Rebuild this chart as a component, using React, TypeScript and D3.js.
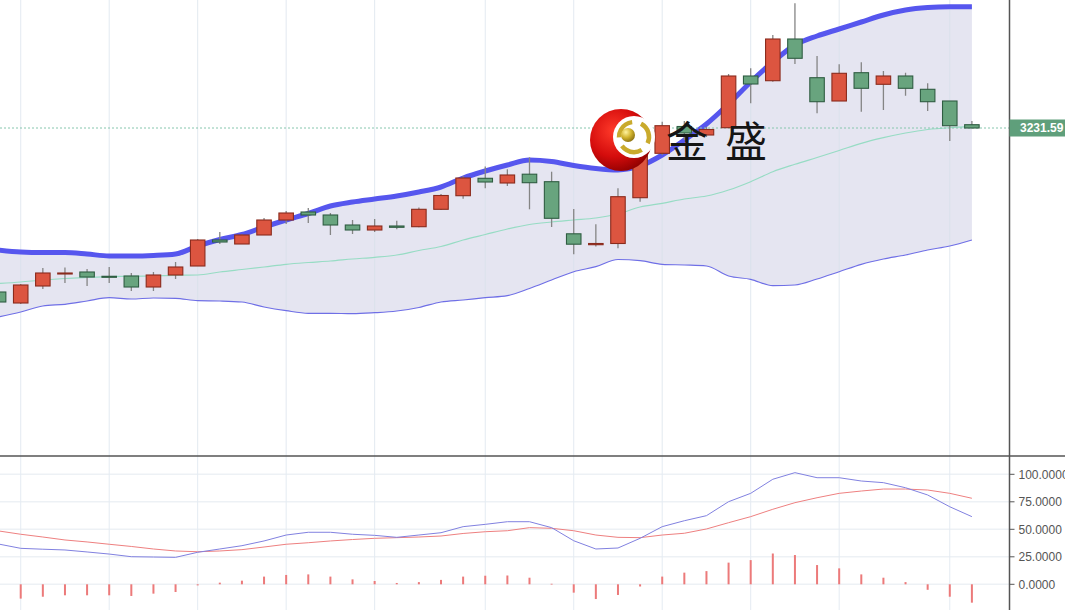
import React from "react";
import * as d3 from "d3";

const W = 1065;
const H = 610;
const AXIS_X = 1009.5;
const DIVIDER_Y = 456;

// candles: first one (index -1) is cut by the left edge, last is index 43
const open = [2903.6, 2881.6, 2915.6, 2939.6, 2943.6, 2935.0, 2935.6, 2913.6, 2937.6, 2955.6, 3007.6, 2999.6, 3017.6, 3047.6, 3063.6, 3057.6, 3037.6, 3027.6, 3035.6, 3034.2, 3069.0, 3096.2, 3131.0, 3121.6, 3139.2, 3124.2, 3020.0, 2998.2, 3000.6, 3092.2, 3181.0, 3234.6, 3217.6, 3232.2, 3335.6, 3326.2, 3409.6, 3332.2, 3285.6, 3342.2, 3319.0, 3335.6, 3309.0, 3285.6, 3238.2];
const high = [2907.6, 2919.6, 2951.6, 2952.6, 2949.6, 2953.6, 2941.6, 2943.6, 2963.6, 3009.6, 3023.6, 3019.6, 3051.6, 3065.6, 3071.6, 3061.6, 3047.6, 3049.6, 3046.2, 3072.6, 3099.6, 3135.6, 3154.6, 3149.0, 3173.0, 3144.2, 3069.6, 3039.0, 3111.0, 3187.6, 3244.2, 3245.6, 3233.6, 3339.6, 3351.0, 3417.6, 3481.0, 3375.6, 3359.0, 3363.0, 3345.6, 3342.2, 3321.0, 3285.6, 3245.6];
const low = [2877.6, 2879.6, 2909.6, 2921.6, 2915.6, 2921.6, 2905.6, 2905.6, 2929.6, 2955.6, 2999.6, 2999.6, 3017.6, 3039.6, 3041.6, 3017.6, 3019.6, 3023.6, 3028.9, 3033.0, 3067.6, 3090.2, 3111.0, 3115.6, 3069.0, 3033.6, 2979.0, 2994.6, 2991.0, 3084.2, 3177.6, 3207.6, 3213.6, 3231.6, 3281.0, 3324.2, 3359.6, 3261.0, 3285.6, 3264.2, 3267.6, 3296.2, 3265.6, 3205.6, 3231.0];
const close = [2883.6, 2917.6, 2941.6, 2941.6, 2933.6, 2933.6, 2913.6, 2937.6, 2953.6, 3007.6, 3003.6, 3017.6, 3047.6, 3061.6, 3057.6, 3037.6, 3027.6, 3035.6, 3033.0, 3069.0, 3096.6, 3131.6, 3123.6, 3137.6, 3122.2, 3051.0, 2999.2, 3000.6, 3094.2, 3181.0, 3236.2, 3221.6, 3228.6, 3335.6, 3319.6, 3409.6, 3371.0, 3284.2, 3341.0, 3311.0, 3335.6, 3311.0, 3284.2, 3236.2, 3231.59];

const bollUpper = [2987.6, 2983.6, 2982.6, 2982.6, 2979.6, 2975.6, 2975.6, 2976.6, 2979.6, 2995.6, 3008.6, 3018.6, 3033.6, 3047.6, 3060.6, 3075.6, 3083.6, 3089.6, 3095.6, 3103.6, 3113.6, 3131.6, 3145.6, 3157.6, 3167.6, 3164.6, 3156.6, 3150.6, 3147.6, 3155.6, 3177.6, 3207.6, 3239.6, 3279.6, 3323.6, 3363.6, 3397.6, 3415.6, 3429.6, 3443.6, 3457.6, 3467.6, 3472.6, 3474.2, 3474.2];
const bollMid = [2920.6, 2923.6, 2927.6, 2930.6, 2932.6, 2934.2, 2935.0, 2936.0, 2937.0, 2937.6, 2943.6, 2948.6, 2953.6, 2959.0, 2962.6, 2965.6, 2969.6, 2973.0, 2977.6, 2986.6, 2994.6, 3007.6, 3018.6, 3029.6, 3038.6, 3043.6, 3047.6, 3051.6, 3059.6, 3073.6, 3081.0, 3089.6, 3095.6, 3107.6, 3124.2, 3144.2, 3159.0, 3172.6, 3186.6, 3201.0, 3212.2, 3221.6, 3228.6, 3232.2, 3234.2];
const bollLower = [2853.6, 2863.6, 2875.6, 2879.0, 2885.6, 2892.2, 2889.6, 2891.6, 2891.0, 2886.2, 2885.6, 2883.6, 2873.6, 2866.2, 2861.0, 2861.0, 2860.2, 2862.2, 2865.6, 2872.6, 2883.6, 2887.6, 2892.2, 2896.2, 2910.6, 2927.6, 2944.2, 2954.2, 2968.6, 2966.2, 2959.0, 2957.6, 2955.6, 2935.6, 2929.0, 2916.2, 2917.6, 2929.6, 2944.2, 2959.0, 2969.6, 2977.6, 2987.6, 2995.6, 3007.6];

// lower panel
const kLine = [36.6, 32.7, 31.9, 31.2, 29.4, 27.5, 25.1, 24.8, 24.5, 29.1, 32.1, 35.1, 39.4, 44.8, 47.3, 47.3, 45.5, 44.5, 42.7, 44.8, 46.9, 52.4, 54.5, 56.9, 56.9, 51.5, 39.6, 32.1, 33.0, 41.8, 52.4, 57.8, 62.4, 75.1, 82.7, 95.5, 101.5, 96.9, 96.9, 93.9, 92.4, 87.8, 81.2, 70.5, 61.5];
const dLine = [48.5, 45.5, 43.0, 40.3, 38.5, 36.4, 34.4, 32.1, 30.3, 29.6, 30.3, 31.5, 33.9, 36.4, 37.8, 39.4, 40.7, 41.8, 42.4, 43.0, 43.9, 46.2, 47.8, 48.7, 51.5, 50.9, 48.7, 44.8, 42.7, 42.4, 44.8, 46.4, 50.3, 56.0, 61.5, 68.2, 74.2, 78.7, 82.7, 84.8, 86.6, 86.6, 85.7, 82.7, 78.2];
const hist = [-12, -13, -11.3, -10, -10, -10, -10.6, -8.5, -7, -1, 1.5, 3.3, 7, 8.5, 9, 7, 4.5, 3, 1.2, 2, 4, 7, 7.8, 8, 6, 0.5, -7.6, -13.4, -9.7, -2, 7, 10.6, 12, 19.7, 22, 28, 26.6, 17.5, 14.5, 9, 6, 2, -5, -11.3, -16.7];

const gridAt = [0, 4, 8, 12, 16, 21, 25, 29, 33, 37, 42];
const indTicks = [0, 25, 50, 75, 100];
const lastPrice = 3231.59;

const RED = "#dc5540";
const RED_EDGE = "#8a2b1d";
const GREEN = "#68a47e";
const GREEN_EDGE = "#2f5d42";

const Logo = () => (
    <g>
        <defs>
            <radialGradient id="redBall" cx="0.38" cy="0.35" r="0.7">
                <stop offset="0%" stopColor="#ff3a2a" />
                <stop offset="60%" stopColor="#d40c0c" />
                <stop offset="100%" stopColor="#8e0000" />
            </radialGradient>
            <radialGradient id="goldBall" cx="0.35" cy="0.3" r="0.75">
                <stop offset="0%" stopColor="#fff3a0" />
                <stop offset="50%" stopColor="#d4b630" />
                <stop offset="100%" stopColor="#8a7010" />
            </radialGradient>
        </defs>
        <circle cx={621} cy={140} r={31} fill="url(#redBall)" />
        <circle cx={634} cy={137} r={21} fill="#ffffff" />
        <circle cx={634} cy={137} r={15} fill="none" stroke="#c9aa2c" strokeWidth={4.5}
            strokeDasharray="22 9" transform="rotate(-60 634 137)" />
        <circle cx={628} cy={135} r={7} fill="url(#goldBall)" />
        <text x={666} y={157} fontSize={42} fontFamily="'Noto Sans CJK SC', sans-serif" fill="#151515">金</text>
        <text x={725} y={157} fontSize={42} fontFamily="'Noto Sans CJK SC', sans-serif" fill="#151515">盛</text>
    </g>
);

export default function App() {
    const idx = close.map((_, i) => i - 1);
    const x = d3.scaleLinear().domain([-1, 43]).range([-1.4, 971.9]);
    const y = d3.scaleLinear().domain([2577.6, 3487.6]).range([455, 0]);
    const yi = d3.scaleLinear().domain([0, 100]).range([584.3, 474.3]);

    const bandArea = d3.area<number>()
        .x((_, i) => x(idx[i]))
        .y0((_, i) => y(bollLower[i]))
        .y1((d) => y(d))
        .curve(d3.curveMonotoneX)(bollUpper);
    const priceLine = (arr: number[]) =>
        d3.line<number>().x((_, i) => x(idx[i])).y((d) => y(d)).curve(d3.curveMonotoneX)(arr);
    const indLine = (arr: number[]) =>
        d3.line<number>().x((_, i) => x(idx[i])).y((d) => yi(d))(arr);

    const bodyW = 14.5;

    return (
        <svg width={W} height={H} style={{ position: "absolute", left: 0, top: 0, background: "#fff" }}
            fontFamily="'Liberation Sans', Arial, sans-serif">
            <defs>
                <clipPath id="mainClip"><rect x={0} y={0} width={AXIS_X} height={DIVIDER_Y} /></clipPath>
                <clipPath id="indClip"><rect x={0} y={DIVIDER_Y} width={AXIS_X} height={H - DIVIDER_Y} /></clipPath>
            </defs>

            {/* main panel */}
            <g clipPath="url(#mainClip)">
                <path d={bandArea || ""} fill="#e5e5f1" />
                {gridAt.map((g) => (
                    <line key={g} x1={x(g)} x2={x(g)} y1={0} y2={DIVIDER_Y} stroke="#d6dfea" strokeOpacity={0.7} />
                ))}
                <path d={priceLine(bollMid) || ""} fill="none" stroke="#97dcc4" strokeWidth={1.2} />
                <path d={priceLine(bollLower) || ""} fill="none" stroke="#6f6fe6" strokeWidth={1.2} />
                <path d={priceLine(bollUpper) || ""} fill="none" stroke="#5656ee" strokeWidth={5} strokeLinejoin="round" />
                <line x1={0} x2={AXIS_X} y1={y(lastPrice)} y2={y(lastPrice)} stroke="#86c6ad" strokeDasharray="2 2" />
                {close.map((c, i) => {
                    const o = open[i];
                    const up = c >= o;
                    const cx = x(idx[i]);
                    const top = y(Math.max(o, c));
                    const h = Math.max(1, y(Math.min(o, c)) - top);
                    return (
                        <g key={i}>
                            <line x1={cx} x2={cx} y1={y(high[i])} y2={y(low[i])} stroke="#858585" strokeWidth={1.3} />
                            <rect x={cx - bodyW / 2} y={top} width={bodyW} height={h}
                                fill={up ? RED : GREEN} stroke={up ? RED_EDGE : GREEN_EDGE} strokeWidth={1.1} />
                        </g>
                    );
                })}
            </g>

            {/* indicator panel */}
            <g>
                {indTicks.map((t) => (
                    <line key={t} x1={0} x2={AXIS_X} y1={yi(t)} y2={yi(t)} stroke="#edf1f5" strokeWidth={1.5} />
                ))}
                {gridAt.map((g) => (
                    <line key={g} x1={x(g)} x2={x(g)} y1={DIVIDER_Y} y2={H} stroke="#e4ebf2" />
                ))}
                <g clipPath="url(#indClip)">
                    {hist.map((v, i) => (
                        <rect key={i} x={x(idx[i]) - 1} width={2}
                            y={Math.min(yi(0), yi(v))} height={Math.max(0.8, Math.abs(yi(v) - yi(0)))}
                            fill="#ec7a7a" />
                    ))}
                    <path d={indLine(dLine) || ""} fill="none" stroke="#ee8080" strokeWidth={1} />
                    <path d={indLine(kLine) || ""} fill="none" stroke="#8181e0" strokeWidth={1} />
                </g>
                {indTicks.map((t) => (
                    <g key={t} transform={`translate(${AXIS_X},${yi(t)})`}>
                        <line x1={0} x2={5} stroke="#555" />
                        <text x={9} dy="0.35em" fontSize={12} fill="#555">{d3.format(".4f")(t)}</text>
                    </g>
                ))}
            </g>

            {/* frame */}
            <line x1={0} x2={W} y1={DIVIDER_Y} y2={DIVIDER_Y} stroke="#555" strokeWidth={1.5} />
            <line x1={AXIS_X} x2={AXIS_X} y1={0} y2={H} stroke="#555" strokeWidth={1.5} />

            {/* last price label */}
            <g transform={`translate(${AXIS_X},${y(lastPrice)})`}>
                <rect x={0} y={-8.5} width={W - AXIS_X} height={17} fill="#5f9f7b" />
                <text x={10.5} dy="0.36em" fontSize={12} fontWeight="bold" fill="#fff">{lastPrice.toFixed(2)}</text>
            </g>

            <Logo />
        </svg>
    );
}
